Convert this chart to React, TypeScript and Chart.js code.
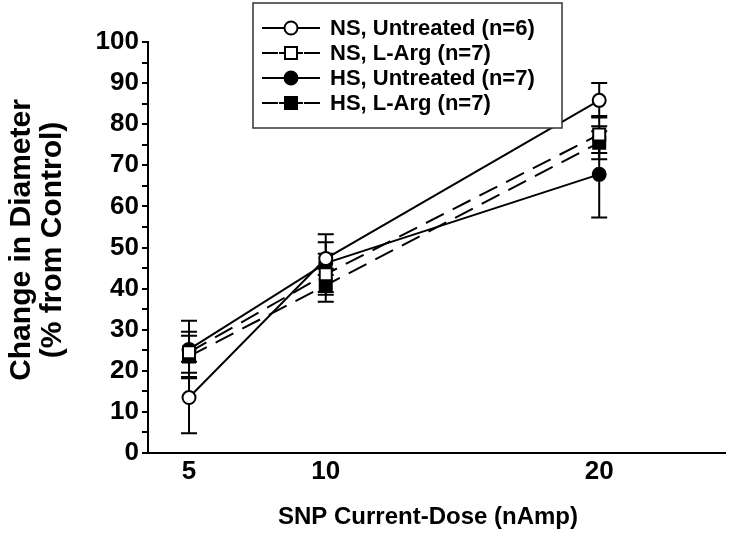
import React, { useEffect, useRef } from 'react';
import { Chart, registerables } from 'chart.js';

Chart.register(...registerables);

// ---- data ----
const doses = [5, 10, 20];
const xTickValues = [5, 10, 20];
const yTickStep = 5;

const seriesLabels = ['NS, Untreated (n=6)', 'NS, L-Arg (n=7)', 'HS, Untreated (n=7)', 'HS, L-Arg (n=7)'];

const nsUntreated = [13.5, 47.3, 85.8];
const nsUntreatedErr = [8.7, 4, 4.2];
const nsLArg = [24.5, 43.5, 77.5];
const nsLArgErr = [5, 5, 4.5];
const hsUntreated = [25.2, 46.2, 67.8];
const hsUntreatedErr = [7, 7, 10.5];
const hsLArg = [23.5, 40.8, 75.5];
const hsLArgErr = [5, 4, 4];

const xTitle = 'SNP Current-Dose (nAmp)';
const yTitle = ['Change in Diameter', '(% from Control)'];

const FONT = "'Liberation Sans', Arial, sans-serif";

const errors = [nsUntreatedErr, nsLArgErr, hsUntreatedErr, hsLArgErr];

const errorBarPlugin = {
  id: 'errorBars',
  beforeDatasetsDraw(chart: any) {
    const { ctx, scales } = chart;
    const xs = scales.x;
    const ys = scales.y;
    ctx.save();
    ctx.strokeStyle = '#000';
    ctx.lineWidth = 2;
    chart.data.datasets.forEach((ds: any, i: number) => {
      const err = errors[i];
      ds.data.forEach((pt: any, j: number) => {
        const x = xs.getPixelForValue(pt.x);
        const yt = ys.getPixelForValue(pt.y + err[j]);
        const yb = ys.getPixelForValue(pt.y - err[j]);
        ctx.beginPath();
        ctx.moveTo(x, yt);
        ctx.lineTo(x, yb);
        ctx.moveTo(x - 8, yt);
        ctx.lineTo(x + 8, yt);
        ctx.moveTo(x - 8, yb);
        ctx.lineTo(x + 8, yb);
        ctx.stroke();
      });
    });
    ctx.restore();
  },
};

const titlesPlugin = {
  id: 'axisTitles',
  afterDraw(chart: any) {
    const { ctx } = chart;
    ctx.save();
    ctx.fillStyle = '#000';
    ctx.textAlign = 'center';
    ctx.textBaseline = 'middle';
    ctx.font = `bold 24px ${FONT}`;
    ctx.fillText(xTitle, 428, 517);
    ctx.font = `bold 30px ${FONT}`;
    const xs = [22, 53];
    yTitle.forEach((t, i) => {
      ctx.save();
      ctx.translate(xs[i], 240);
      ctx.rotate(-Math.PI / 2);
      ctx.fillText(t, 0, 0);
      ctx.restore();
    });
    ctx.restore();
  },
};

const legendPlugin = {
  id: 'boxLegend',
  afterDraw(chart: any) {
    const { ctx } = chart;
    const boxL = 253, boxT = 3, boxR = 562, boxB = 128;
    const rows = [28, 53, 78, 103];
    const lineL = 262, lineR = 320, markX = 291, textX = 330;
    ctx.save();
    ctx.strokeStyle = '#333';
    ctx.lineWidth = 1.5;
    ctx.fillStyle = '#fff';
    ctx.fillRect(boxL, boxT, boxR - boxL, boxB - boxT);
    ctx.strokeRect(boxL, boxT, boxR - boxL, boxB - boxT);
    chart.data.datasets.forEach((ds: any, i: number) => {
      const y = rows[i];
      ctx.strokeStyle = '#000';
      ctx.lineWidth = 2;
      if (ds.borderDash && ds.borderDash.length) {
        ctx.beginPath();
        ctx.moveTo(lineL, y);
        ctx.lineTo(lineL + 16, y);
        ctx.moveTo(markX - 12, y);
        ctx.lineTo(markX + 12, y);
        ctx.moveTo(lineR - 16, y);
        ctx.lineTo(lineR, y);
        ctx.stroke();
      } else {
        ctx.beginPath();
        ctx.moveTo(lineL, y);
        ctx.lineTo(lineR, y);
        ctx.stroke();
      }
      ctx.fillStyle = ds.pointBackgroundColor;
      ctx.strokeStyle = '#000';
      ctx.lineWidth = 2;
      ctx.beginPath();
      if (ds.pointStyle === 'rect') {
        ctx.rect(markX - 6, y - 6, 12, 12);
      } else {
        ctx.arc(markX, y, 6.5, 0, Math.PI * 2);
      }
      ctx.fill();
      ctx.stroke();
      ctx.fillStyle = '#000';
      ctx.font = `bold 22px ${FONT}`;
      ctx.textBaseline = 'middle';
      ctx.textAlign = 'left';
      ctx.fillText(ds.label, textX, y + 1);
    });
    ctx.restore();
  },
};

function makeSeries(label: string, ys: number[], dashed: boolean, filled: boolean, style: string) {
  return {
    label,
    data: doses.map((d, i) => ({ x: d, y: ys[i] })),
    borderColor: '#000',
    borderWidth: 2,
    borderDash: dashed ? [20, 10] : [],
    pointStyle: style,
    pointRadius: style === 'rect' ? 8.5 : 6.5,
    pointBorderWidth: 2,
    pointBorderColor: '#000',
    pointBackgroundColor: filled ? '#000' : '#fff',
    fill: false,
    tension: 0,
  };
}

export default function App() {
  const ref = useRef<HTMLCanvasElement>(null);
  useEffect(() => {
    if (!ref.current) return;
    const chart = new Chart(ref.current, {
      type: 'line',
      data: {
        datasets: [
          makeSeries(seriesLabels[0], nsUntreated, false, false, 'circle'),
          makeSeries(seriesLabels[1], nsLArg, true, false, 'rect'),
          makeSeries(seriesLabels[2], hsUntreated, false, true, 'circle'),
          makeSeries(seriesLabels[3], hsLArg, true, true, 'rect'),
        ] as any,
      },
      options: {
        responsive: false,
        animation: false,
        devicePixelRatio: 1,
        layout: { padding: { top: 42, right: 25, left: 0, bottom: 0 } },
        plugins: { legend: { display: false }, tooltip: { enabled: false } },
        scales: {
          x: {
            type: 'linear',
            min: 3.5,
            max: 24.6,
            afterBuildTicks: (s: any) => {
              s.ticks = xTickValues.map((v) => ({ value: v }));
            },
            afterFit: (s: any) => {
              s.height = 81;
            },
            grid: { display: false, drawTicks: false },
            border: { display: true, color: '#000', width: 2 },
            ticks: {
              color: '#000',
              font: { family: FONT, size: 26, weight: 'bold' },
              padding: 3,
              autoSkip: false,
              maxRotation: 0,
            },
            title: { display: false },
          },
          y: {
            type: 'linear',
            min: 0,
            max: 100,
            afterFit: (s: any) => {
              s.width = 148;
            },
            grid: { display: true, drawOnChartArea: false, drawTicks: true, tickLength: 6, color: '#000', lineWidth: 2 },
            border: { display: true, color: '#000', width: 2 },
            ticks: {
              stepSize: yTickStep,
              autoSkip: false,
              color: '#000',
              padding: 3,
              font: { family: FONT, size: 26, weight: 'bold' },
              callback: (v: any) => (Number(v) % 10 === 0 ? String(v) : ''),
            },
            title: { display: false },
          },
        },
      } as any,
      plugins: [errorBarPlugin, legendPlugin, titlesPlugin],
    });
    return () => chart.destroy();
  }, []);
  return (
    <div style={{ position: 'fixed', left: 0, top: 0, width: 750, height: 534, background: '#fff' }}>
      <canvas ref={ref} width={750} height={534} />
    </div>
  );
}
